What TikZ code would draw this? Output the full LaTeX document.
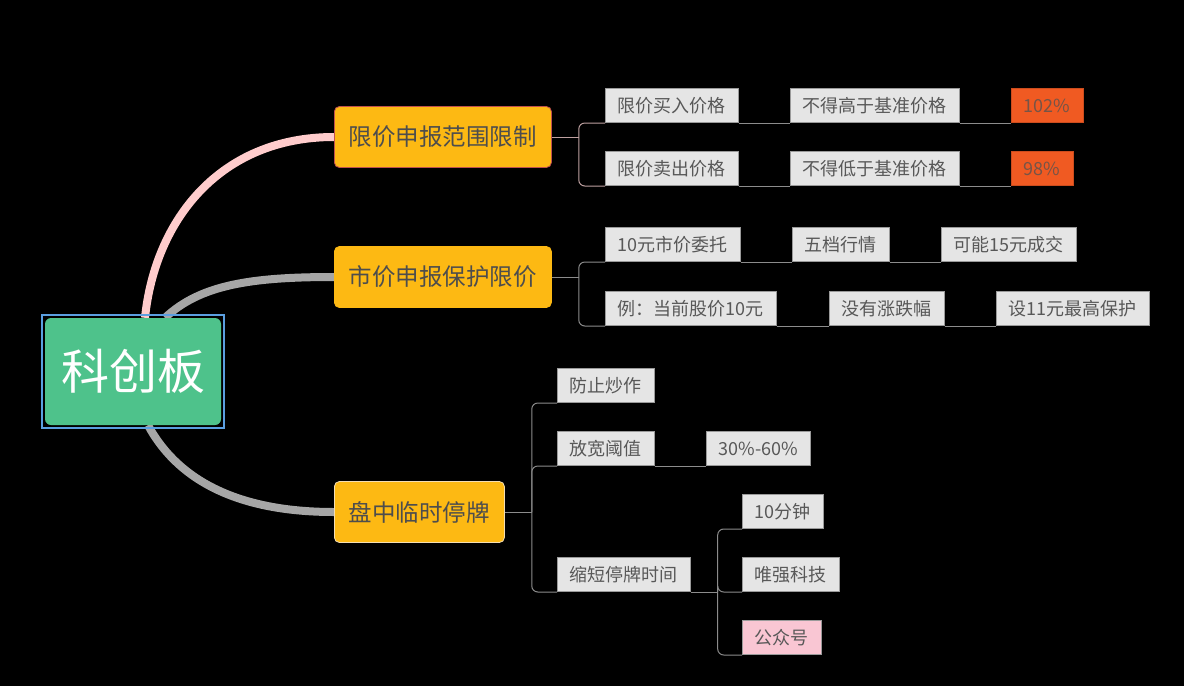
\documentclass[tikz,border=0pt]{standalone}
\usepackage{fontspec}
\setmainfont{Noto Sans CJK SC}
\usetikzlibrary{backgrounds, fit, positioning}
\definecolor{GR}{RGB}{78,194,139}
\definecolor{BF}{RGB}{91,159,224}
\definecolor{OR}{RGB}{253,185,19}
\definecolor{RB}{RGB}{192,80,77}
\definecolor{YB}{RGB}{245,222,179}
\definecolor{LF}{RGB}{229,229,229}
\definecolor{LD}{RGB}{154,154,154}
\definecolor{TX}{RGB}{77,77,77}
\definecolor{LT}{RGB}{88,88,88}
\definecolor{RO}{RGB}{240,90,34}
\definecolor{PK}{RGB}{249,198,211}
\definecolor{CP}{RGB}{255,204,204}
\definecolor{CG}{RGB}{166,166,166}
\definecolor{LN}{RGB}{140,140,140}
\definecolor{LP}{RGB}{190,160,160}

\begin{document}
\begin{tikzpicture}[x=1pt, y=-1pt,
  kcb/.style={fill=GR, rounded corners=6pt, minimum width=176pt, minimum height=107pt,
    text=white, font=\fontsize{48}{56}\selectfont},
  branchbox/.style={fill=OR, draw=#1, rounded corners=5pt, line width=0.8pt, minimum height=61pt,
    inner xsep=14.5pt, inner ysep=0pt, text=TX, font=\fontsize{23.5}{28}\selectfont, anchor=west},
  leafbox/.style={fill=#1, draw=LD, line width=0.7pt, minimum height=34pt, inner xsep=12.5pt,
    inner ysep=0pt, text=LT, font=\fontsize{18}{22}\selectfont, anchor=south west},
  leafbox/.default=LF,
  hotbox/.style={leafbox=RO, draw=RO!85!black, text=RO!30!black!75},
  linkline/.style={draw=#1, line width=1pt, rounded corners=6pt},
  linkline/.default=LN,
  trunkline/.style={draw=#1, line width=8pt}
]
\useasboundingbox (0,0) rectangle (1184,686);

% Central topic
\node[kcb] (root) at (133,371.5) {科创板};
\node[draw=BF, line width=2pt, fit=(root), inner sep=3pt] (frame) {};

% Main branches
\node[branchbox=RB] (b1) at (334,137) {限价申报范围限制};
\node[branchbox=OR] (b2) at (334,277) {市价申报保护限价};
\node[branchbox=YB] (b3) at (334,512) {盘中临时停牌};

% Leaves of branch 1
\node[leafbox] (l1a)  at (605,123)  {限价买入价格};
\node[leafbox] (l1a2) at (790,123)  {不得高于基准价格};
\node[hotbox]  (l1a3) at (1011,123) {102\%};
\node[leafbox] (l1b)  at (605,186)  {限价卖出价格};
\node[leafbox] (l1b2) at (790,186)  {不得低于基准价格};
\node[hotbox]  (l1b3) at (1011,186) {98\%};

% Leaves of branch 2
\node[leafbox] (l2a)  at (605,262) {10元市价委托};
\node[leafbox] (l2a2) at (792,262) {五档行情};
\node[leafbox] (l2a3) at (941,262) {可能15元成交};
\node[leafbox] (l2b)  at (605,326) {例：当前股价10元};
\node[leafbox] (l2b2) at (829,326) {没有涨跌幅};
\node[leafbox] (l2b3) at (996,326) {设11元最高保护};

% Leaves of branch 3
\node[leafbox] (l3a)  at (557,403) {防止炒作};
\node[leafbox] (l3b)  at (557,466) {放宽阈值};
\node[leafbox] (l3b2) at (706,466) {30\%-60\%};
\node[leafbox] (l3c)  at (557,592) {缩短停牌时间};
\node[leafbox] (l3c1) at (742,529) {10分钟};
\node[leafbox] (l3c2) at (742,592) {唯强科技};
\node[leafbox=PK] (l3c3) at (742,655) {公众号};

% Background and thick trunks
\begin{scope}[on background layer]
\fill[black] (0,0) rectangle (1184,686);
\draw[trunkline=CP] ([xshift=12pt]root.north) .. controls (155,220) and (220,137) .. (b1.west);
\draw[trunkline=CG] ([xshift=32pt]root.north) .. controls (200,285) and (250,277) .. (b2.west);
\draw[trunkline=CG] ([xshift=15pt]root.south) .. controls (175,475) and (230,512) .. (b3.west);
\end{scope}

% Thin connectors
\draw[linkline=LP] (b1.east) -- ++(27,0) coordinate (j1);
\draw[linkline=LP] (j1) |- (l1a.south west);
\draw[linkline=LP] (j1) |- (l1b.south west);
\draw[linkline] (l1a.south east) -- (l1a2.south west);
\draw[linkline] (l1a2.south east) -- (l1a3.south west);
\draw[linkline] (l1b.south east) -- (l1b2.south west);
\draw[linkline] (l1b2.south east) -- (l1b3.south west);

\draw[linkline] (b2.east) -- ++(27,0) coordinate (j2);
\draw[linkline] (j2) |- (l2a.south west);
\draw[linkline] (j2) |- (l2b.south west);
\draw[linkline] (l2a.south east) -- (l2a2.south west);
\draw[linkline] (l2a2.south east) -- (l2a3.south west);
\draw[linkline] (l2b.south east) -- (l2b2.south west);
\draw[linkline] (l2b2.south east) -- (l2b3.south west);

\draw[linkline] (b3.east) -- ++(27,0) coordinate (j3);
\foreach \l in {l3a,l3b,l3c}
  \draw[linkline] (j3) |- (\l.south west);
\draw[linkline] (l3b.south east) -- (l3b2.south west);

\draw[linkline] (l3c.south east) -- ++(27,0) coordinate (j4);
\foreach \l in {l3c1,l3c2,l3c3}
  \draw[linkline] (j4) |- (\l.south west);
\end{tikzpicture}
\end{document}
